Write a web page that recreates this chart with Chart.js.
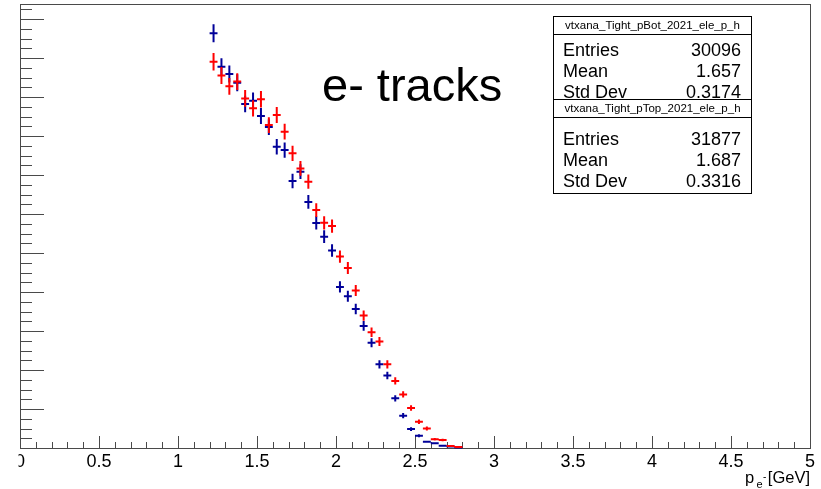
<!DOCTYPE html>
<html>
<head>
<meta charset="utf-8">
<title>e- tracks</title>
<script src="https://cdn.jsdelivr.net/npm/chart.js@4"></script>
<style>
  html, body { margin: 0; padding: 0; background: #fff; }
  #plot { display: block; }
</style>
</head>
<body>
<canvas id="plot" width="821" height="489"></canvas>
<script>
// --- data: electron momentum, 0.05 GeV bins ---
const binCenters = [1.225, 1.275, 1.325, 1.375, 1.425, 1.475, 1.525, 1.575,
  1.625, 1.675, 1.725, 1.775, 1.825, 1.875, 1.925, 1.975,
  2.025, 2.075, 2.125, 2.175, 2.225, 2.275, 2.325, 2.375,
  2.425, 2.475, 2.525, 2.575, 2.625, 2.675, 2.725, 2.775];
const binWidth = 0.05;

// bottom half of the detector (blue)
const botCounts = [2127, 1955, 1918, 1873, 1764, 1781, 1703, 1646,
  1545, 1528, 1369, 1417, 1262, 1154, 1084, 1013,
  826, 778, 713, 626, 540, 429, 372, 255,
  166, 97, 63, 32, 24, 12, 8, 3];
// top half (red)
const topCounts = [1981, 1910, 1855, 1879, 1793, 1742, 1788, 1656,
  1708, 1622, 1511, 1434, 1366, 1220, 1155, 1138,
  982, 923, 808, 679, 594, 546, 429, 344,
  275, 205, 135, 100, 45, 41, 10, 5];

const xTickLabels = ["0", "0.5", "1", "1.5", "2", "2.5", "3", "3.5", "4", "4.5", "5"];

// stat boxes
const statNames = ["vtxana_Tight_pBot_2021_ele_p_h", "vtxana_Tight_pTop_2021_ele_p_h"];
const statEntries = ["30096", "31877"];
const statMeans = ["1.657", "1.687"];
const statStdDevs = ["0.3174", "0.3316"];

// --- style ---
const FONT = '"Liberation Sans", Arial, sans-serif';
const BLUE = "#000099";
const RED = "#ff0000";
const AXIS = "#4a4a4a";
const Y_MAX = 2277;
const Y_MAJOR = 200, Y_MINOR = 50;

const toPoints = counts => counts.map((y, i) => ({ x: binCenters[i], y }));

// frame + ROOT style inward ticks
const frame = {
  id: "frame",
  beforeDatasetsDraw(chart) {
    const { ctx, chartArea: a, scales: { x, y } } = chart;
    ctx.save();
    ctx.strokeStyle = AXIS;
    ctx.lineWidth = 1;
    ctx.strokeRect(a.left + 0.5, a.top + 0.5, a.right - a.left, a.bottom - a.top);

    ctx.beginPath();
    for (let v = 0; v <= Y_MAX; v += Y_MINOR) {
      const py = Math.round(y.getPixelForValue(v)) + 0.5;
      const len = v % Y_MAJOR === 0 ? 24 : 12;
      ctx.moveTo(a.left, py);
      ctx.lineTo(a.left + len, py);
    }
    for (let i = 0; i <= 50; i++) {
      const px = Math.round(x.getPixelForValue(i / 10)) + 0.5;
      const len = i % 5 === 0 ? 12 : 6;
      ctx.moveTo(px, a.bottom);
      ctx.lineTo(px, a.bottom - len);
    }
    ctx.stroke();

    // x labels, left edge cut like the original canvas
    ctx.beginPath();
    ctx.rect(18.5, 0, chart.width, chart.height);
    ctx.clip();
    ctx.fillStyle = "#000";
    ctx.font = "18px " + FONT;
    ctx.textAlign = "center";
    ctx.textBaseline = "alphabetic";
    xTickLabels.forEach(l => ctx.fillText(l, x.getPixelForValue(Number(l)), 466.5));
    ctx.restore();
  }
};

// error crosses: bin width horizontally, sqrt(N) vertically
const errorBars = {
  id: "errorBars",
  afterDatasetsDraw(chart) {
    const { ctx, scales: { x, y } } = chart;
    const half = binWidth / 2;
    chart.data.datasets.forEach(ds => {
      ctx.save();
      ctx.strokeStyle = ds.borderColor;
      ctx.lineWidth = 2;
      ctx.beginPath();
      ds.data.forEach(p => {
        const err = Math.sqrt(p.y);
        const px = x.getPixelForValue(p.x), py = y.getPixelForValue(p.y);
        ctx.moveTo(x.getPixelForValue(p.x - half), py);
        ctx.lineTo(x.getPixelForValue(p.x + half), py);
        ctx.moveTo(px, y.getPixelForValue(p.y + err));
        ctx.lineTo(px, Math.min(y.getPixelForValue(p.y - err), y.bottom));
      });
      ctx.stroke();
      ctx.restore();
    });
  }
};

function drawStats(ctx, i, top, bottom, baselines) {
  const left = 553.5, right = 751.5, mid = (left + right) / 2;
  ctx.fillStyle = "#fff";
  ctx.fillRect(left, top, right - left, bottom - top);
  ctx.strokeStyle = "#000";
  ctx.lineWidth = 1;
  ctx.strokeRect(left, top, right - left, bottom - top);
  ctx.beginPath();
  ctx.moveTo(left, top + 18);
  ctx.lineTo(right, top + 18);
  ctx.stroke();

  ctx.fillStyle = "#000";
  ctx.font = "11.5px " + FONT;
  ctx.textAlign = "center";
  ctx.textBaseline = "middle";
  ctx.fillText(statNames[i], mid, top + 9.5);

  ctx.font = "18px " + FONT;
  ctx.textBaseline = "alphabetic";
  const rows = [["Entries", statEntries[i]], ["Mean", statMeans[i]], ["Std Dev", statStdDevs[i]]];
  rows.forEach(([k, v], r) => {
    ctx.textAlign = "left";
    ctx.fillText(k, 563, baselines[r]);
    ctx.textAlign = "right";
    ctx.fillText(v, 741, baselines[r]);
  });
}

const overlay = {
  id: "overlay",
  afterDraw(chart) {
    const { ctx } = chart;
    ctx.save();
    drawStats(ctx, 1, 99.5, 193.5, [145, 166, 187]);
    drawStats(ctx, 0, 16.5, 99.5, [56, 77, 97.5]);

    ctx.fillStyle = "#000";
    ctx.font = "47px " + FONT;
    ctx.textAlign = "left";
    ctx.textBaseline = "alphabetic";
    ctx.fillText("e- tracks", 322, 101);

    // axis title p_{e^-} [GeV], right aligned at the frame edge
    ctx.textAlign = "right";
    ctx.font = "16.5px " + FONT;
    ctx.fillText("[GeV]", 810, 483);
    ctx.textAlign = "left";
    ctx.fillText("p", 745, 483);
    ctx.font = "11px " + FONT;
    ctx.fillText("e", 756.5, 488);
    ctx.font = "10px " + FONT;
    ctx.fillText("-", 763, 480);
    ctx.restore();
  }
};

new Chart(document.getElementById("plot"), {
  type: "scatter",
  data: {
    datasets: [
      { label: statNames[0], data: toPoints(botCounts), borderColor: BLUE, backgroundColor: BLUE, pointRadius: 0 },
      { label: statNames[1], data: toPoints(topCounts), borderColor: RED, backgroundColor: RED, pointRadius: 0 },
    ]
  },
  options: {
    responsive: false,
    animation: false,
    events: [],
    layout: { padding: { left: 20, right: 11, top: 4, bottom: 41 } },
    plugins: { legend: { display: false }, tooltip: { enabled: false } },
    scales: {
      x: { type: "linear", min: 0, max: 5, display: false },
      y: { type: "linear", min: 0, max: Y_MAX, display: false },
    },
  },
  plugins: [frame, errorBars, overlay],
});
</script>
</body>
</html>
